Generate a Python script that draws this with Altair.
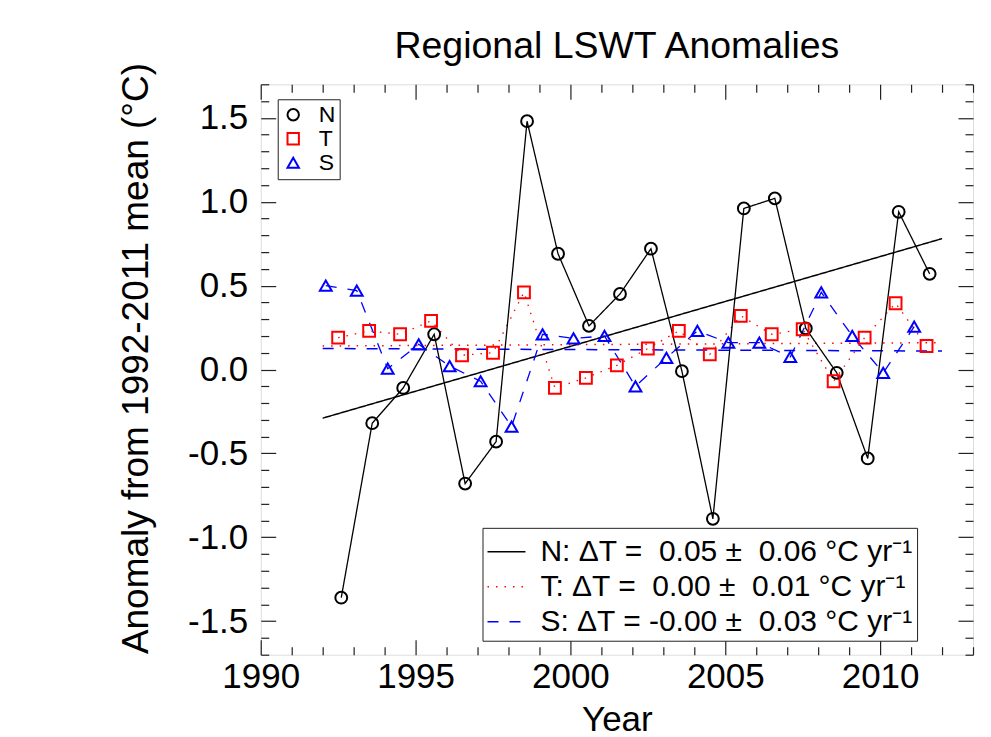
import altair as alt
import pandas as pd

# ---------------- data ----------------
years = list(range(1992, 2012))
n_vals = [-1.36, -0.32, -0.11, 0.21, -0.68, -0.43, 1.48, 0.69, 0.26, 0.45,
          0.72, -0.01, -0.89, 0.96, 1.02, 0.245, -0.02, -0.53, 0.94, 0.57]
t_vals = [0.19, 0.23, 0.21, 0.29, 0.085, 0.10, 0.46, -0.11, -0.05, 0.025,
          0.125, 0.23, 0.09, 0.32, 0.21, 0.24, -0.07, 0.19, 0.395, 0.14]
s_vals = [0.50, 0.47, 0.005, 0.15, 0.02, -0.07, -0.34, 0.21, 0.185, 0.20,
          -0.10, 0.07, 0.23, 0.16, 0.16, 0.075, 0.46, 0.20, -0.02, 0.255]
series_names = ["N", "T", "S"]
series_year_offset = {"N": 0.6, "T": 0.5, "S": 0.1}

trend_years = [1992, 2012]
n_trend = [-0.29, 0.78]
t_trend = [0.14, 0.16]
s_trend = [0.125, 0.11]
trend_labels = [
    "N: \u0394T = \u00a00.05 \u00b1 \u00a00.06 \u00b0C yr\u207b\u00b9",
    "T: \u0394T = \u00a00.00 \u00b1 \u00a00.01 \u00b0C yr\u207b\u00b9",
    "S: \u0394T = -0.00 \u00b1 \u00a00.03 \u00b0C yr\u207b\u00b9",
]

x_ticks = list(range(1990, 2014))
y_ticks = [round(v / 10, 1) for v in range(-17, 18)]

colors = ["#000000", "#ff0000", "#0000ff"]
FONT = "Liberation Sans"

# ---------------- tables ----------------
rows = []
for name, vals in zip(series_names, [n_vals, t_vals, s_vals]):
    for yr, v in zip(years, vals):
        rows.append({"series": name, "year": yr, "value": v})
pts = pd.DataFrame(rows)
pts["x"] = pts["year"] + pts["series"].map(series_year_offset)

trows = []
for lab, vals in zip(trend_labels, [n_trend, t_trend, s_trend]):
    for yr, v in zip(trend_years, vals):
        trows.append({"label": lab, "year": yr, "value": v})
trend = pd.DataFrame(trows)

xscale = alt.Scale(domain=[1990, 2013], nice=False, zero=False)
yscale = alt.Scale(domain=[-1.7, 1.7], nice=False, zero=False)

x_major = "datum.value % 5 === 0"
y_major = "abs(datum.value * 2 - round(datum.value * 2)) < 0.001"


def tsize(test, major, minor):
    # negative sizes draw the ticks inward (IDL style)
    return {"condition": {"test": test, "value": major}, "value": minor}


common_axis = dict(domain=False, grid=False, tickColor="#222", tickWidth=1.2,
                   labelFont=FONT, labelColor="black", titleFont=FONT,
                   titleColor="black", titleFontWeight="normal")

x_bottom = alt.Axis(orient="bottom", values=x_ticks,
                    labelExpr="datum.value % 5 === 0 ? format(datum.value, 'd') : ''",
                    tickSize=tsize(x_major, -15, -8), labelPadding=20, labelFlush=False,
                    labelOverlap=False,
                    labelFontSize=35, title="Year", titleFontSize=35,
                    titleBaseline="alphabetic", titleY=76, **common_axis)
y_left = alt.Axis(orient="left", values=y_ticks,
                  labelExpr="(" + y_major + ") ? ((datum.value < -0.001 ? '-' : '') + format(abs(datum.value), '.1f')) : ''",
                  tickSize=tsize(y_major, -15, -8), labelPadding=28, labelFlush=False,
                  labelOverlap=False,
                  labelFontSize=35, title="Anomaly from 1992-2011 mean (\u00b0C)",
                  titleFontSize=37, titleAngle=270, titleBaseline="alphabetic",
                  titleAlign="center", titleX=-113, titleY=274, **common_axis)
x_top = alt.Axis(orient="top", values=x_ticks, labels=False, title=None,
                 tickSize=tsize(x_major, -15, -8), **common_axis)
y_right = alt.Axis(orient="right", values=y_ticks, labels=False, title=None,
                   tickSize=tsize(y_major, -15, -8), **common_axis)

legend2 = alt.Legend(title=None, orient="none", legendX=222, legendY=444,
                     strokeColor="#222", fillColor="white", padding=4,
                     symbolType="stroke", symbolSize=1444,
                     symbolStrokeWidth=1.4, labelFontSize=30,
                     labelFont=FONT, labelColor="black", labelLimit=0,
                     labelOffset=14, rowPadding=0)

# trend lines (with top/right axes and the trend legend)
trend_layer = alt.Chart(trend).mark_line(strokeWidth=1.5, opacity=1).encode(
    x=alt.X("year:Q", scale=xscale, axis=x_top),
    y=alt.Y("value:Q", scale=yscale, axis=y_right),
    color=alt.Color("label:N", scale=alt.Scale(domain=trend_labels, range=colors),
                    legend=legend2),
    strokeDash=alt.StrokeDash("label:N",
                              scale=alt.Scale(domain=trend_labels,
                                              range=[[1, 0], [1.5, 7], [11, 11]]),
                              legend=legend2),
)

line_styles = {"N": ("#000000", [1, 0]), "T": ("#ff0000", [1.5, 7]), "S": ("#0000ff", [11, 11])}
line_layers = []
for name in ["S", "T", "N"]:
    col, dash = line_styles[name]
    line_layers.append(
        alt.Chart(pts).transform_filter(alt.datum.series == name)
        .mark_line(strokeWidth=1.3, color=col, strokeDash=dash, opacity=1)
        .encode(x=alt.X("x:Q", scale=xscale, axis=None),
                y=alt.Y("value:Q", scale=yscale, axis=None),
                order="x:Q")
    )

legend1 = alt.Legend(title=None, orient="none", legendX=17, legendY=15,
                     strokeColor="#222", fillColor="white", padding=4,
                     symbolSize=130, symbolStrokeWidth=2, symbolOpacity=1,
                     labelFontSize=23, labelFont=FONT, labelColor="black",
                     labelOffset=14, rowPadding=0)

point_layer = alt.Chart(pts).mark_point(filled=False, size=140, strokeWidth=2,
                                        opacity=1).encode(
    x=alt.X("x:Q", scale=xscale, axis=x_bottom),
    y=alt.Y("value:Q", scale=yscale, axis=y_left),
    color=alt.Color("series:N", scale=alt.Scale(domain=series_names, range=colors),
                    legend=legend1),
    shape=alt.Shape("series:N", scale=alt.Scale(domain=series_names,
                                                range=["circle", "square", "triangle-up"]),
                    legend=legend1),
)

chart = alt.layer(trend_layer, *line_layers, point_layer).resolve_scale(
    color="independent", strokeDash="independent", shape="independent"
).resolve_axis(x="independent", y="independent").properties(
    width=713, height=571,
    title=alt.TitleParams("Regional LSWT Anomalies", font=FONT, fontSize=37.5,
                          fontWeight="normal", color="black", anchor="middle",
                          baseline="alphabetic", offset=-33, frame="group"),
    autosize=alt.AutoSizeParams(type="none"),
    padding={"left": 253, "top": 76, "right": 10, "bottom": 82},
).configure_view(stroke="#222", strokeWidth=1.5).configure(background="white")

chart.save("out.html", embed_options={"renderer": "svg", "actions": False})
